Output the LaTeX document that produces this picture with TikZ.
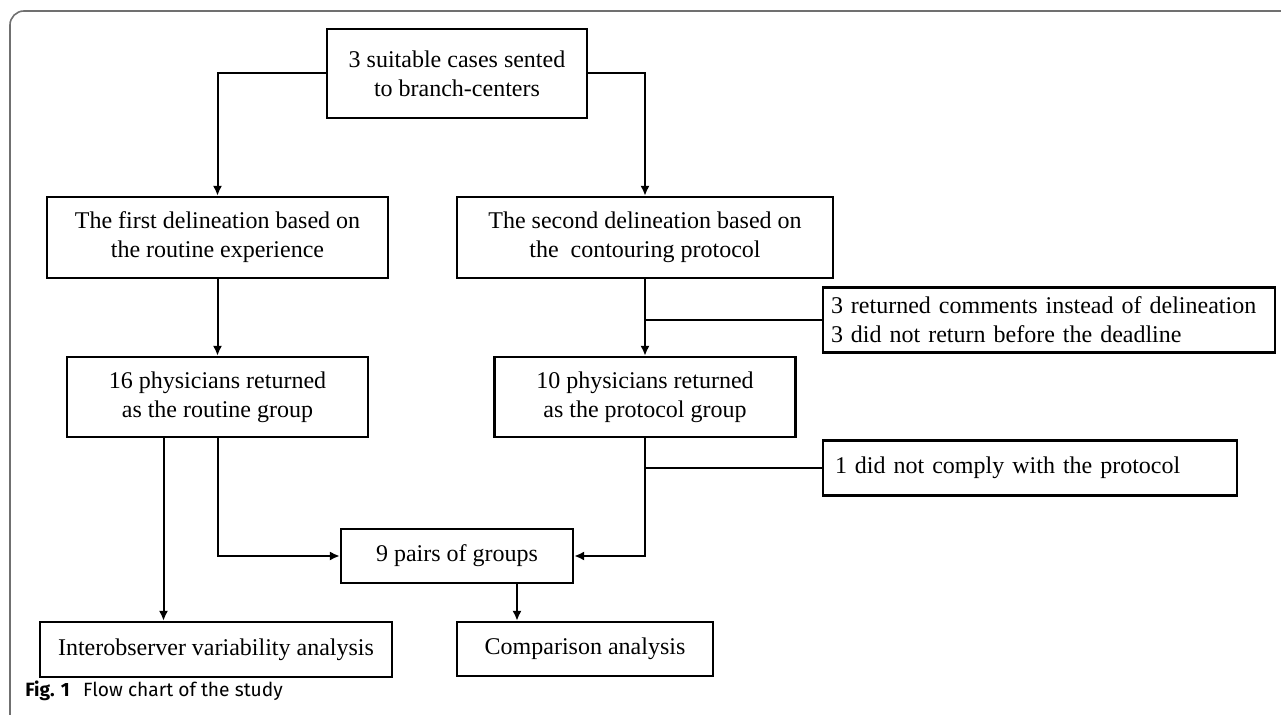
\documentclass[tikz,border=0pt]{standalone}
\usepackage{fontspec}
\setmainfont{Liberation Serif}
\newfontfamily\capfamily{Fira Sans}
\usepackage{tikz}
\usetikzlibrary{arrows.meta, positioning}
\definecolor{framegray}{RGB}{112,112,112}
\newcommand{\boxfont}{\fontsize{12}{14.5}\selectfont}
\newcommand{\capfont}{\capfamily\fontsize{9.6}{11}\selectfont}

\begin{document}
\begin{tikzpicture}[
    x=0.5pt, y=-0.5pt,
    block/.style={rectangle, draw=black, line width=1.2pt, inner sep=0pt, align=center, font=\boxfont},
    note/.style={block, align=left, inner xsep=4pt},
    arrow/.style={-{Latex[length=5pt, width=4.6pt]}, line width=1pt},
    link/.style={line width=1pt},
    frame/.style={draw=framegray, line width=0.8pt, rounded corners=7pt},
    caption/.style={font=\capfont, anchor=base west, inner sep=0pt}
]
    \useasboundingbox (0,0) rectangle (1281,715);
    \draw[frame] (10,716) -- (10,11) -- (1282,11);

    % Nodes
    \node[block, minimum width=130pt, minimum height=44.5pt] (cases) at (457, 73.5) {3 suitable cases sented\\to branch-centers};
    \node[block, minimum width=170.5pt, minimum height=40.5pt] (first) at (217.5, 237.5) {The first delineation based on\\the routine experience};
    \node[block, minimum width=188pt, minimum height=40.5pt] (second) at (645, 237.5) {The second delineation based on\\the\ \ contouring protocol};
    \node[block, minimum width=150.5pt, minimum height=40pt] (routine) at (217.5, 397) {16 physicians returned\\as the routine group};
    \node[block, minimum width=150.5pt, minimum height=40pt] (protocol) at (645, 397) {10 physicians returned\\as the protocol group};
    \node[note, text width=218pt, minimum height=32.5pt] (late) at (1049, 320) {\mbox{3 returned comments instead of delineation}\\3 did not return before the deadline};
    \node[note, text width=195pt, inner xsep=6pt, minimum height=27.5pt] (noncomply) at (1030, 468) {1 did not comply with the protocol};
    \node[block, minimum width=116pt, minimum height=27pt] (pairs) at (457, 556) {9 pairs of groups};
    \node[block, minimum width=176pt, minimum height=27.5pt] (inter) at (216, 649.5) {Interobserver variability analysis};
    \node[block, minimum width=128pt, minimum height=27pt] (compare) at (585, 649) {Comparison analysis};

    % Arrows
    \draw[arrow] (cases.west) -| (first.north);
    \draw[arrow] (cases.east) -| (second.north);
    \draw[arrow] (first) -- (routine);
    \draw[arrow] (second) -- (protocol);
    \draw[arrow] ([xshift=-27pt]routine.south) -- ([xshift=-27pt]routine.south |- inter.north);
    \draw[arrow] (routine.south) |- (pairs.west);
    \draw[arrow] (protocol.south) |- (pairs.east);
    \draw[arrow] ([xshift=30pt]pairs.south) -- ([xshift=30pt]pairs.south |- compare.north);

    % Exclusions
    \coordinate (cut1) at (645, 320);
    \coordinate (cut2) at (645, 468);
    \draw[link] (cut1) -- (late.west);
    \draw[link] (cut2) -- (noncomply.west);

    % Caption
    \node[caption] (cap) at (25, 697) {\textbf{Fig. 1}\hspace{0.7em}Flow chart of the study};
\end{tikzpicture}
\end{document}
